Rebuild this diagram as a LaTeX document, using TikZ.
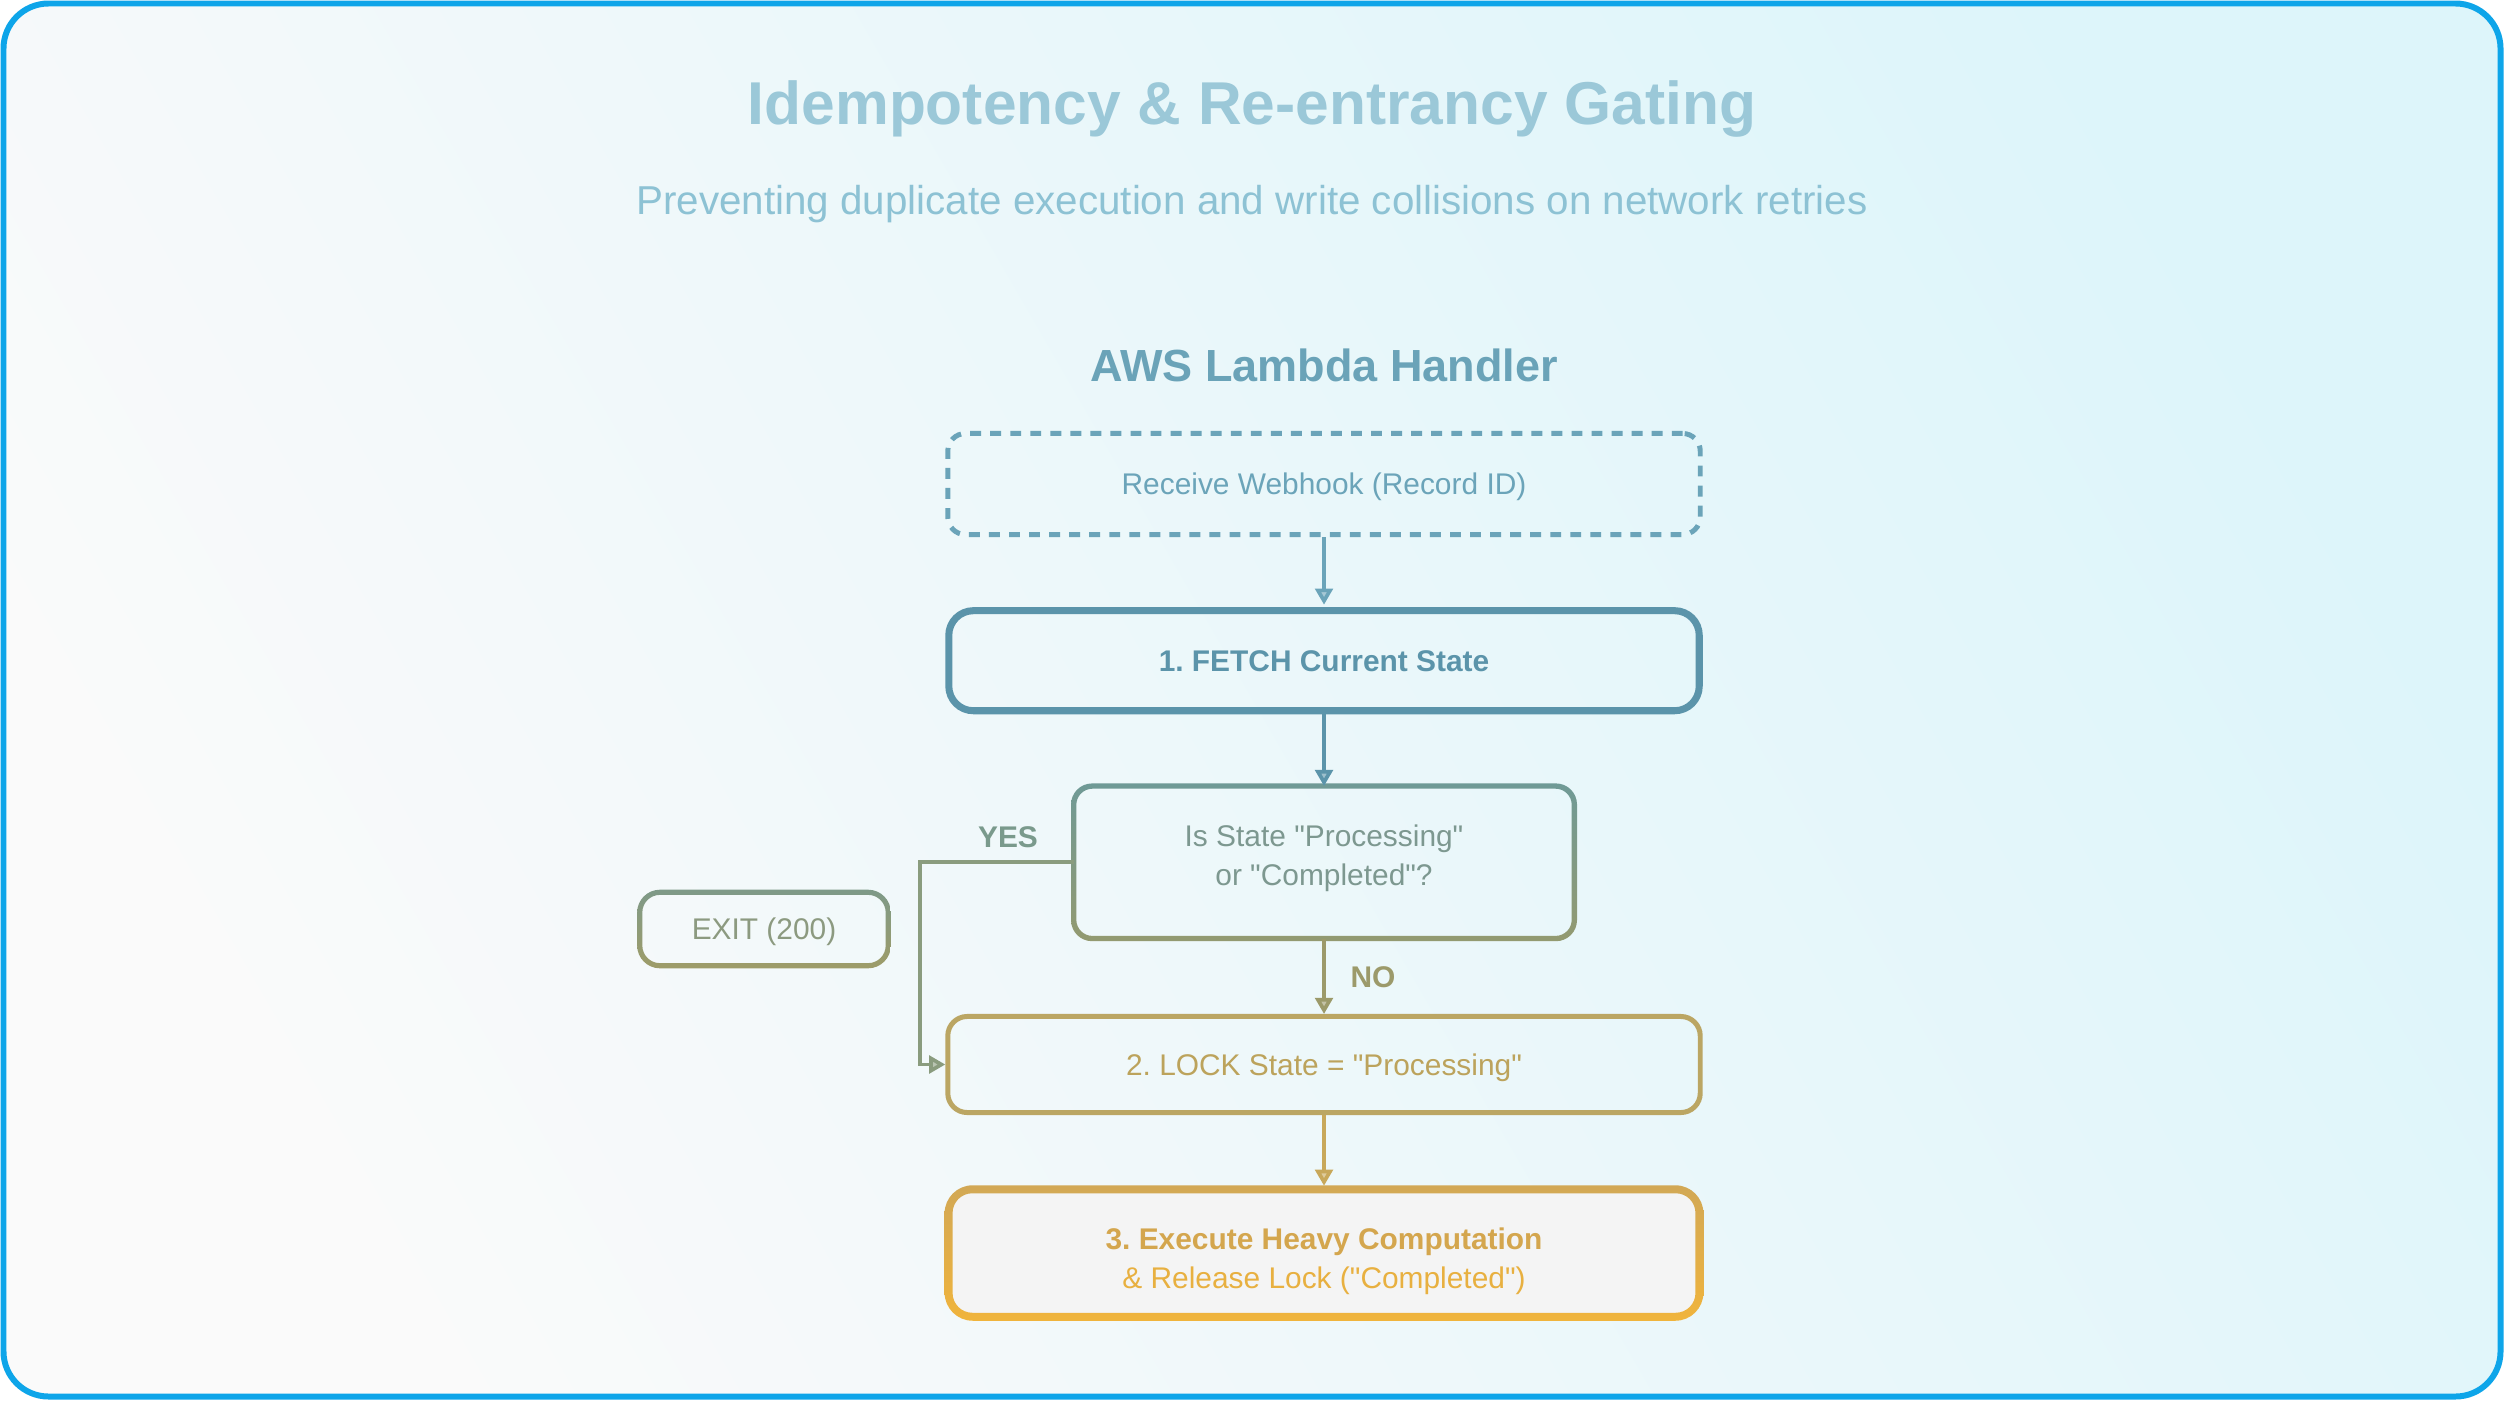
\documentclass[tikz,border=0pt]{standalone}
\usepackage{fontspec}
\setmainfont{Liberation Sans}[Ligatures=TeXOff]
\usetikzlibrary{arrows.meta}
\frenchspacing
\definecolor{borderblue}{HTML}{0EA5E9}
\definecolor{bgcyan}{HTML}{DDF5FA}
\definecolor{bgmid}{HTML}{F7FAFA}
\definecolor{bgwhite}{HTML}{FAFAFA}
\definecolor{titlec}{HTML}{9BC8D8}
\definecolor{subc}{HTML}{8DC2D4}
\definecolor{headc}{HTML}{6AA3B8}
\definecolor{dashc}{HTML}{6BA4B9}
\definecolor{fetchc}{HTML}{5B94AA}
\definecolor{dectop}{HTML}{6F9A96}
\definecolor{decbot}{HTML}{939A70}
\definecolor{dectext}{HTML}{7D9890}
\definecolor{exittop}{HTML}{7E9A88}
\definecolor{exitbot}{HTML}{9E9C68}
\definecolor{exittext}{HTML}{8C9A80}
\definecolor{yesc}{HTML}{7A9A8C}
\definecolor{yesline}{HTML}{8A9C7E}
\definecolor{noc}{HTML}{9C9A6A}
\definecolor{lockc}{HTML}{BBA663}
\definecolor{lockt}{HTML}{BCA35C}
\definecolor{execarrow}{HTML}{C8A85A}
\definecolor{exectop}{HTML}{D2A855}
\definecolor{execbot}{HTML}{F0B43C}
\definecolor{exect1}{HTML}{D4A64E}
\definecolor{exect2}{HTML}{E8B040}
\definecolor{execfill}{HTML}{F4F4F4}
\newcommand\gradring[6]{%
  \begin{scope}[even odd rule]
    \clip [rounded corners=#3] ([shift={(-#2,-#2)}]#1.north west) rectangle ([shift={(#2,#2)}]#1.south east)
      [rounded corners=#4] ([shift={(#2,#2)}]#1.north west) rectangle ([shift={(-#2,-#2)}]#1.south east);
    \shade[top color=#5, bottom color=#6] ([shift={(-#2,-#2)}]#1.north west) rectangle ([shift={(#2,#2)}]#1.south east);
  \end{scope}}
\newcommand\oneline[1]{\raisebox{-3pt}[0pt][0pt]{#1}}
\newcommand\twolines[3]{\raisebox{-#1}[0pt][0pt]{\begin{tabular}[b]{@{}c@{}}#2\\#3\end{tabular}}}
\tikzset{
  boxtext/.style={font=\fontsize{8.5pt}{11.1pt}\selectfont},
  basebox/.style={rectangle, inner sep=0pt, align=center, boxtext},
  dashbox/.style={basebox, draw=dashc, line width=1.42pt, dash pattern=on 3.1pt off 2.6pt, rounded corners=5pt, text=dashc},
  thickbox/.style={basebox, draw=fetchc, line width=2pt, rounded corners=7pt, text=fetchc},
  conn/.style={draw=#1, line width=1.05pt, -{Triangle[length=4.6pt,width=5pt,fill=#1!60!white]}},
  lbl/.style={font=\fontsize{8.5pt}{11.1pt}\selectfont\bfseries}
}
\begin{document}
\begin{tikzpicture}[x=0.01cm,y=-0.01cm]
\useasboundingbox (0,0) rectangle (2504,1400);
\fill[white] (0,0) rectangle (2504,1400);
\shade[rounded corners=12.8pt, top color=bgcyan, middle color=bgmid, bottom color=bgwhite, shading angle=-60] (3.5,3.5) rectangle (2500.5,1396.5);
\draw[borderblue, line width=1.7pt, rounded corners=12.8pt] (3.5,3.5) rectangle (2500.5,1396.5);

\node[text=titlec, font=\fontsize{17.2pt}{20pt}\selectfont\bfseries] (title) at (1252,109) {Idempotency \& Re-entrancy Gating};
\node[text=subc, font=\fontsize{11.47pt}{14pt}\selectfont] (subtitle) at (1252,204) {Preventing duplicate execution and write collisions on network retries};
\node[text=headc, font=\fontsize{12.8pt}{15pt}\selectfont\bfseries] (head) at (1324,365) {AWS Lambda Handler};

\node[dashbox, minimum width=7.52cm, minimum height=1.01cm] (recv) at (1324,484) {\oneline{Receive Webhook (Record ID)}};
\node[thickbox, minimum width=7.5cm, minimum height=1.0cm, font=\fontsize{8.5pt}{11.1pt}\selectfont\bfseries] (fetch) at (1324,660.7) {\oneline{1. FETCH Current State}};

\node[basebox, text=dectext, minimum width=4.99cm, minimum height=1.51cm] (dec) at (1324,862.3) {\twolines{6.5pt}{Is State "Processing"}{or "Completed"?}};
\gradring{dec}{2.65}{6pt}{4.6pt}{dectop}{decbot}

\node[basebox, text=exittext, minimum width=2.47cm, minimum height=0.72cm] (exit) at (764,929) {\oneline{EXIT (200)}};
\gradring{exit}{2.6}{6.5pt}{5pt}{exittop}{exitbot}

\node[basebox, draw=lockc, line width=1.42pt, rounded corners=5.5pt, text=lockt, minimum width=7.52cm, minimum height=0.96cm] (lock) at (1324,1064.5) {\oneline{2. LOCK State = "Processing"}};

\node[basebox, fill=execfill, rounded corners=6.5pt, minimum width=7.49cm, minimum height=1.26cm] (exec) at (1324,1253) {\twolines{10.2pt}{\textcolor{exect1}{\bfseries 3. Execute Heavy Computation}}{\textcolor{exect2}{\& Release Lock ("Completed")}}};
\gradring{exec}{4}{8pt}{5.6pt}{exectop}{execbot}

\draw[conn=dashc] (recv.south) -- ([yshift=0.7pt]fetch.north);
\draw[conn=fetchc] (fetch.south) -- (dec.north);
\draw[conn=noc] (dec.south) -- (lock.north);
\draw[conn=yesline] (dec.west) -- ++(-154,0) |- (lock.west);
\draw[conn=execarrow] (lock.south) -- ([yshift=1pt]exec.north);

\node[lbl, text=yesc] (yes) at (1008,837) {YES};
\node[lbl, text=noc] (no) at (1373,977) {NO};
\end{tikzpicture}
\end{document}
